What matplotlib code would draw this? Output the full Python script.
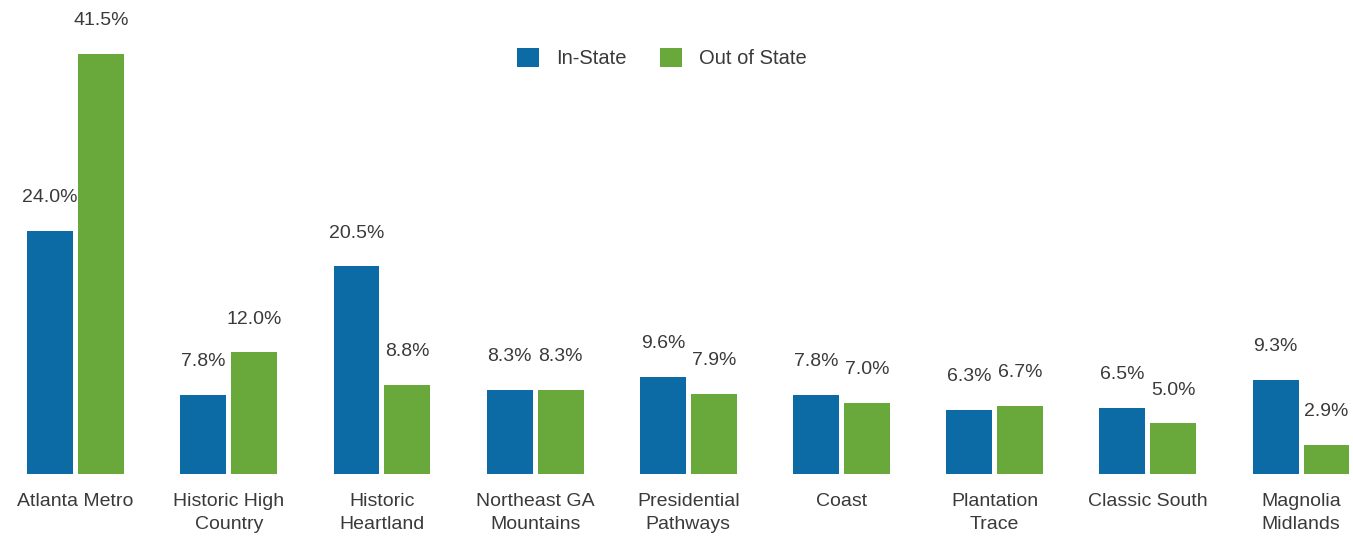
import numpy as np
import matplotlib.pyplot as plt

plt.rcParams['font.family'] = ['Liberation Sans', 'DejaVu Sans']

regions = ['Atlanta Metro', 'Historic High\nCountry', 'Historic\nHeartland',
           'Northeast GA\nMountains', 'Presidential\nPathways', 'Coast',
           'Plantation\nTrace', 'Classic South', 'Magnolia\nMidlands']
in_state = [24.0, 7.8, 20.5, 8.3, 9.6, 7.8, 6.3, 6.5, 9.3]
out_state = [41.5, 12.0, 8.8, 8.3, 7.9, 7.0, 6.7, 5.0, 2.9]

blue = '#0c6aa5'
green = '#69a83b'
txt = '#3a3a3a'

fig = plt.figure(figsize=(13.53, 5.36), dpi=100)
ax = fig.add_axes([0, 62 / 536, 1, 474 / 536])

x = np.arange(len(regions))
w = 0.30
off = 0.166
b1 = ax.bar(x - off, in_state, w, color=blue, label='In-State')
b2 = ax.bar(x + off, out_state, w, color=green, label='Out of State')

for bars, vals in ((b1, in_state), (b2, out_state)):
    for r, v in zip(bars, vals):
        ax.annotate(f'{v:.1f}%', (r.get_x() + r.get_width() / 2, v),
                    xytext=(0, 24), textcoords='offset points',
                    ha='center', va='center', fontsize=14, color=txt)

ax.set_xlim(-0.493, 8.339)
ax.set_ylim(0, 46.8)
ax.set_xticks(x)
ax.set_xticklabels(regions, fontsize=14, color=txt, linespacing=1.42)
ax.tick_params(axis='x', length=0, pad=14)
ax.set_yticks([])
for s in ax.spines.values():
    s.set_visible(False)

ax.legend(loc='center', bbox_to_anchor=(662 / 1353, 1 - 58 / 474), ncol=2,
          frameon=False, fontsize=14.5, handlelength=1.05, handleheight=1.05,
          handletextpad=0.85, columnspacing=1.7, labelcolor=txt)

fig.savefig('out.png', dpi=100)
